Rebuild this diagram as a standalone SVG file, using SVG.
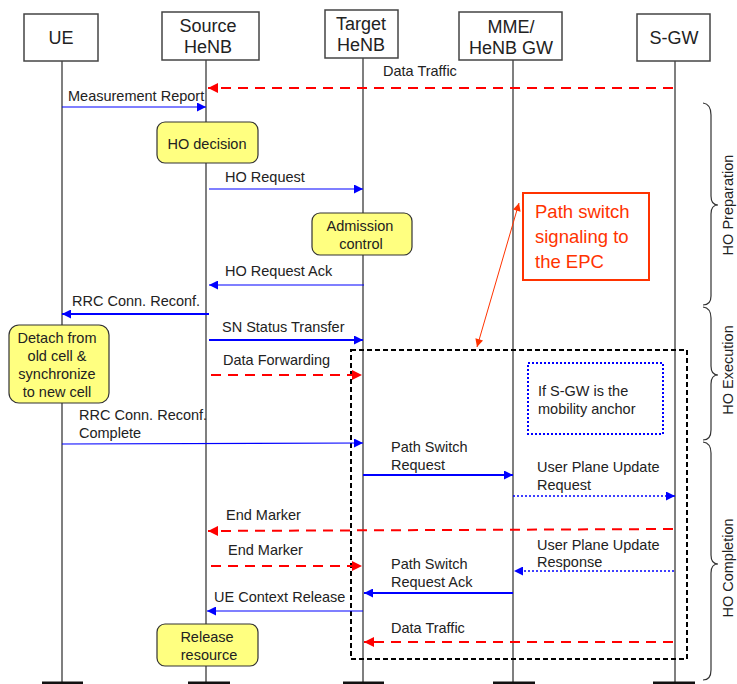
<svg xmlns="http://www.w3.org/2000/svg" width="737" height="684" viewBox="0 0 737 684">
<style>
text{font-family:"Liberation Sans",Arial,sans-serif;fill:#222}
.hd{font-size:18px;text-anchor:middle}
.lb{font-size:14.5px}
.box{fill:#fff;stroke:#444;stroke-width:1.5}
.life{stroke:#555;stroke-width:1.5}
.bar{stroke:#111;stroke-width:3}
.note{fill:#ffff80;stroke:#333;stroke-width:1.2}
.nt{font-size:14.5px;text-anchor:middle}
.b1{stroke:#0000ff;stroke-width:1.2;fill:none}
.b2{stroke:#0000ff;stroke-width:2;fill:none}
.bd{stroke:#0000ff;stroke-width:1.6;stroke-dasharray:2 2;fill:none}
.rd{stroke:#ff0000;stroke-width:2;stroke-dasharray:10 7;fill:none}
.brace{fill:none;stroke:#333;stroke-width:1.2}
.ph{font-size:14.5px;text-anchor:middle}
</style>
<defs>
<marker id="ab" viewBox="0 0 10 10" refX="10" refY="5" markerWidth="10" markerHeight="9" markerUnits="userSpaceOnUse" orient="auto"><path d="M0,0L10,5L0,10z" fill="#0000ff"/></marker>
<marker id="ar" viewBox="0 0 10 10" refX="10" refY="5" markerWidth="11" markerHeight="10" markerUnits="userSpaceOnUse" orient="auto"><path d="M0,0L10,5L0,10z" fill="#ff0000"/></marker>
<marker id="ao" viewBox="0 0 10 10" refX="10" refY="5" markerWidth="9" markerHeight="8" markerUnits="userSpaceOnUse" orient="auto-start-reverse"><path d="M0,0L10,5L0,10z" fill="#ff3300"/></marker>
</defs>

<g id="lifelines">
<line class="life" x1="62" y1="61" x2="62" y2="683"/>
<line class="life" x1="206" y1="60" x2="206" y2="683"/>
<line class="life" x1="363" y1="58" x2="363" y2="683"/>
<line class="life" x1="513" y1="60" x2="513" y2="683"/>
<line class="life" x1="675" y1="61" x2="675" y2="683"/>
<line class="bar" x1="42" y1="683" x2="83" y2="683"/>
<line class="bar" x1="188" y1="683" x2="230" y2="683"/>
<line class="bar" x1="343" y1="683" x2="384" y2="683"/>
<line class="bar" x1="493" y1="683" x2="535" y2="683"/>
<line class="bar" x1="653" y1="683" x2="695" y2="683"/>
</g>

<g id="UE"><rect class="box" x="24" y="14" width="74" height="47"/><text class="hd" x="61" y="44">UE</text></g>
<g id="SourceHeNB"><rect class="box" x="162" y="12" width="97" height="48"/><text class="hd" x="208" y="32">Source</text><text class="hd" x="208" y="53">HeNB</text></g>
<g id="TargetHeNB"><rect class="box" x="325" y="10" width="73" height="48"/><text class="hd" x="361" y="30">Target</text><text class="hd" x="361" y="51">HeNB</text></g>
<g id="MME"><rect class="box" x="459" y="12" width="103" height="48"/><text class="hd" x="511" y="33">MME/</text><text class="hd" x="511" y="54">HeNB GW</text></g>
<g id="SGW"><rect class="box" x="637" y="14" width="73" height="47"/><text class="hd" x="674" y="44">S-GW</text></g>

<g id="HOdecision"><rect class="note" x="157" y="122" width="101" height="41" rx="8"/><text class="nt" x="207" y="149">HO decision</text></g>
<g id="Admission"><rect class="note" x="312" y="213" width="100" height="42" rx="8"/><text class="nt" x="360" y="231">Admission</text><text class="nt" x="361" y="249">control</text></g>
<g id="Detach"><rect class="note" x="9" y="325" width="100" height="78" rx="10"/><text class="nt" x="57" y="343">Detach from</text><text class="nt" x="57" y="361">old cell &amp;</text><text class="nt" x="57" y="379">synchronize</text><text class="nt" x="57" y="397">to new cell</text></g>
<g id="Release"><rect class="note" x="157" y="624" width="101" height="42" rx="8"/><text class="nt" x="207" y="642">Release</text><text class="nt" x="209" y="660">resource</text></g>

<g id="EPCbox"><rect x="351" y="350" width="336" height="309" fill="none" stroke="#000" stroke-width="2" stroke-dasharray="5 3"/></g>
<g id="anchorNote"><rect x="528" y="363" width="135" height="71" fill="none" stroke="#0000ff" stroke-width="2" stroke-dasharray="2 2"/><text class="lb" x="538" y="396">If S-GW is the</text><text class="lb" x="538" y="414">mobility anchor</text></g>

<g id="pathNote">
<rect x="523" y="193" width="126" height="87" fill="#fff" stroke="#ff3300" stroke-width="2"/>
<text x="535" y="218" font-size="18.5" style="fill:#ff3300">Path switch</text>
<text x="535" y="243" font-size="18.5" style="fill:#ff3300">signaling to</text>
<text x="535" y="268" font-size="18.5" style="fill:#ff3300">the EPC</text>
</g>

<g id="connectors">
<line x1="477" y1="347" x2="519" y2="203" stroke="#ff3300" stroke-width="1" marker-start="url(#ao)" marker-end="url(#ao)"/>

<line class="rd" x1="673" y1="88" x2="208" y2="88" marker-end="url(#ar)"/>
<text class="lb" x="383" y="76">Data Traffic</text>

<line class="b1" x1="62" y1="107" x2="206" y2="107" marker-end="url(#ab)"/>
<text class="lb" x="68" y="101">Measurement Report</text>

<line class="b1" x1="209" y1="189" x2="363" y2="189" marker-end="url(#ab)"/>
<text class="lb" x="225" y="182">HO Request</text>

<line class="b1" x1="364" y1="285" x2="209" y2="285" marker-end="url(#ab)"/>
<text class="lb" x="225" y="276">HO Request Ack</text>

<line class="b2" x1="209" y1="314" x2="62" y2="314" marker-end="url(#ab)"/>
<text class="lb" x="72" y="306">RRC Conn. Reconf.</text>

<line class="b2" x1="209" y1="340" x2="363" y2="340" marker-end="url(#ab)"/>
<text class="lb" x="222" y="332">SN Status Transfer</text>

<line class="rd" x1="211" y1="375" x2="362" y2="375" marker-end="url(#ar)"/>
<text class="lb" x="223" y="365">Data Forwarding</text>

<line class="b1" x1="62" y1="444" x2="363" y2="443" marker-end="url(#ab)"/>
<text class="lb" x="79" y="420">RRC Conn. Reconf.</text>
<text class="lb" x="79" y="438">Complete</text>

<line class="b2" x1="363" y1="475" x2="513" y2="475" marker-end="url(#ab)"/>
<text class="lb" x="391" y="452">Path Switch</text>
<text class="lb" x="391" y="470">Request</text>

<line class="bd" x1="513" y1="496" x2="675" y2="496" marker-end="url(#ab)"/>
<text class="lb" x="537" y="472">User Plane Update</text>
<text class="lb" x="537" y="490">Request</text>

<line class="rd" x1="673" y1="529" x2="208" y2="531" marker-end="url(#ar)"/>
<text class="lb" x="226" y="520">End Marker</text>

<line class="rd" x1="211" y1="566" x2="362" y2="566" marker-end="url(#ar)"/>
<text class="lb" x="228" y="555">End Marker</text>

<line class="bd" x1="674" y1="571" x2="514" y2="571" marker-end="url(#ab)"/>
<text class="lb" x="537" y="550">User Plane Update</text>
<text class="lb" x="537" y="567">Response</text>

<line class="b2" x1="513" y1="593" x2="364" y2="593" marker-end="url(#ab)"/>
<text class="lb" x="391" y="569">Path Switch</text>
<text class="lb" x="391" y="587">Request Ack</text>

<line class="b1" x1="363" y1="611" x2="207" y2="611" marker-end="url(#ab)"/>
<text class="lb" x="214" y="602">UE Context Release</text>

<line class="rd" x1="673" y1="642" x2="364" y2="642" marker-end="url(#ar)"/>
<text class="lb" x="391" y="633">Data Traffic</text>
</g>

<g id="phases">
<path class="brace" d="M703,103 Q711,104 711,115 L711,196 Q711,205 718,205 Q711,205 711,214 L711,296 Q711,305 703,305"/>
<path class="brace" d="M703,307 Q711,308 711,318 L711,366 Q711,375 718,375 Q711,375 711,384 L711,430 Q711,440 703,440"/>
<path class="brace" d="M703,442 Q711,443 711,453 L711,555 Q711,564 718,564 Q711,564 711,573 L711,670 Q711,680 703,680"/>
<text class="ph" transform="translate(733,205) rotate(-90)">HO Preparation</text>
<text class="ph" transform="translate(733,370) rotate(-90)">HO Execution</text>
<text class="ph" transform="translate(733,568) rotate(-90)">HO Completion</text>
</g>
</svg>
